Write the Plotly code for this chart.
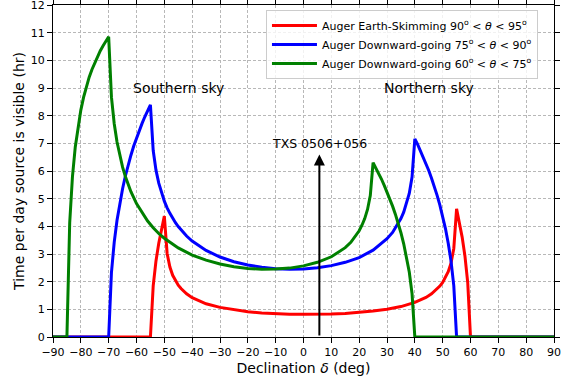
import plotly.graph_objects as go

# Declination (deg) and visible time per day (hr)
red_dec = [-90, -55, -54, -53, -52, -51, -50, -49, -48, -47, -46, -45, -44, -42, -40, -35, -30, -25, -20, -15,
           -10, -5, 0, 5, 10, 15, 20, 25, 30, 35, 40, 42, 44, 46, 48, 49, 50, 51, 52, 53,
           54, 55, 56, 57, 58, 59, 60, 90]
red_hr = [0, 0, 1.85, 2.75, 3.39, 3.92, 4.37, 3.02, 2.53, 2.23, 2.03, 1.87, 1.75, 1.56, 1.42, 1.20, 1.07, 0.98, 0.91, 0.87,
          0.84, 0.82, 0.82, 0.82, 0.83, 0.85, 0.89, 0.94, 1.00, 1.10, 1.25, 1.33, 1.43, 1.56, 1.73, 1.84, 1.97, 2.14, 2.36, 2.67,
          3.20, 4.63, 4.17, 3.61, 2.93, 1.97, 0, 0]

blue_dec = [-90, -70, -69, -68, -67, -66, -65, -64, -63, -62, -61, -60, -59, -58, -57, -56, -55, -54, -53, -52,
            -51, -50, -49, -48, -46, -45, -42, -40, -35, -30, -25, -20, -15, -10, -5, 0, 5, 10, 15, 20,
            25, 30, 32, 34, 35, 36, 37, 38, 39, 40, 41, 42, 43, 44, 45, 46, 47, 48, 49, 50,
            51, 52, 53, 54, 55, 90]
blue_hr = [0, 0, 2.33, 3.43, 4.22, 4.84, 5.36, 5.82, 6.22, 6.57, 6.90, 7.19, 7.47, 7.72, 7.96, 8.18, 8.39, 6.74, 6.03, 5.56,
           5.20, 4.91, 4.67, 4.47, 4.13, 3.99, 3.65, 3.47, 3.13, 2.89, 2.72, 2.60, 2.52, 2.47, 2.45, 2.46, 2.50, 2.58, 2.70, 2.87,
           3.14, 3.55, 3.78, 4.09, 4.28, 4.51, 4.81, 5.19, 5.78, 7.16, 6.96, 6.74, 6.52, 6.27, 6.02, 5.74, 5.45, 5.12, 4.77, 4.37,
           3.92, 3.39, 2.75, 1.85, 0, 0]

green_dec = [-90, -85, -84, -83, -82, -81, -80, -79, -78, -77, -76, -75, -74, -73, -72, -71, -70, -69, -68, -67,
             -66, -65, -64, -63, -62, -60, -58, -56, -54, -52, -50, -45, -40, -35, -30, -25, -20, -15, -10, -5,
             0, 5, 10, 15, 17, 19, 20, 21, 22, 23, 24, 25, 26, 27, 28, 29, 30, 31, 32, 33, 34,
             35, 36, 37, 38, 39, 40, 90]
green_hr = [0, 0, 4.13, 5.81, 6.87, 7.62, 8.20, 8.67, 9.06, 9.39, 9.67, 9.92, 10.15, 10.35, 10.53, 10.70, 10.85, 8.67, 7.71, 7.05,
            6.55, 6.14, 5.80, 5.50, 5.25, 4.82, 4.48, 4.19, 3.95, 3.74, 3.57, 3.22, 2.96, 2.78, 2.64, 2.54, 2.48, 2.45, 2.46, 2.49,
            2.57, 2.70, 2.90, 3.23, 3.42, 3.68, 3.84, 4.04, 4.28, 4.61, 5.11, 6.30, 6.11, 5.92, 5.71, 5.48, 5.25, 5.00, 4.73, 4.44, 4.12,
            3.77, 3.37, 2.91, 2.35, 1.57, 0, 0]

series_names = [
    "Auger Earth-Skimming 90<sup>o</sup> &lt; <i>θ</i> &lt; 95<sup>o</sup>",
    "Auger Downward-going 75<sup>o</sup> &lt; <i>θ</i> &lt; 90<sup>o</sup>",
    "Auger Downward-going 60<sup>o</sup> &lt; <i>θ</i> &lt; 75<sup>o</sup>",
]
series_colors = ["#ff0000", "#0000ff", "#008000"]

x_ticks = list(range(-90, 91, 10))
x_ticklabels = [str(v).replace("-", "\u2212") for v in x_ticks]
y_ticks = list(range(0, 13))

txs_dec = 5.7
txs_arrow_top = 6.6
txs_label = "TXS 0506+056"
txs_label_y = 7.0
sky_labels = [("Southern sky", -45, 9), ("Northern sky", 45, 9)]

FONT = "DejaVu Sans"

fig = go.Figure()
for xs, ys, name, col in zip([red_dec, blue_dec, green_dec], [red_hr, blue_hr, green_hr], series_names, series_colors):
    fig.add_trace(go.Scatter(x=xs, y=ys, mode="lines", name=name,
                             line=dict(color=col, width=3), cliponaxis=False))

for text, xv, yv in sky_labels:
    fig.add_annotation(x=xv, y=yv, xref="x", yref="y", text=text, showarrow=False,
                       font=dict(family=FONT, size=14, color="black"))

fig.add_annotation(x=txs_dec, y=txs_label_y, xref="x", yref="y", text=txs_label, showarrow=False,
                   font=dict(family=FONT, size=12.5, color="black"))
fig.add_annotation(x=txs_dec, y=txs_arrow_top, ax=txs_dec, ay=0, xref="x", yref="y", axref="x", ayref="y",
                   text="", showarrow=True, arrowhead=2, arrowsize=1.1, arrowwidth=2, arrowcolor="black",
                   standoff=0, startstandoff=0)

axis_common = dict(showline=True, linecolor="black", linewidth=1, mirror="ticks",
                   ticks="outside", ticklen=5, tickwidth=1, tickcolor="black",
                   showgrid=True, gridcolor="#b8b8b8", gridwidth=1, griddash="3px,2px",
                   zeroline=False, automargin=False, ticklabeloverflow="allow",
                   tickfont=dict(family=FONT, size=11, color="black"))

fig.update_xaxes(range=[-90, 90], tickvals=x_ticks, ticktext=x_ticklabels,
                 title=dict(text="Declination <i>δ</i> (deg)", font=dict(family=FONT, size=14, color="black"), standoff=4),
                 **axis_common)
fig.update_yaxes(range=[0, 12], tickvals=y_ticks,
                 title=dict(text="Time per day source is visible (hr)", font=dict(family=FONT, size=14, color="black"), standoff=2),
                 **axis_common)

fig.update_layout(
    width=570, height=381,
    margin=dict(l=53, r=16, t=5, b=44),
    paper_bgcolor="white", plot_bgcolor="white",
    font=dict(family=FONT, size=11, color="black"),
    showlegend=True,
    legend=dict(x=0.968, y=0.985, xanchor="right", yanchor="top", itemwidth=45,
                bgcolor="rgba(255,255,255,0.8)", bordercolor="#cccccc", borderwidth=1,
                font=dict(family=FONT, size=11, color="black"), tracegroupgap=0),
)

fig.write_html("out.html", config={"displayModeBar": False},
               post_script="document.body.style.margin='0px';")
